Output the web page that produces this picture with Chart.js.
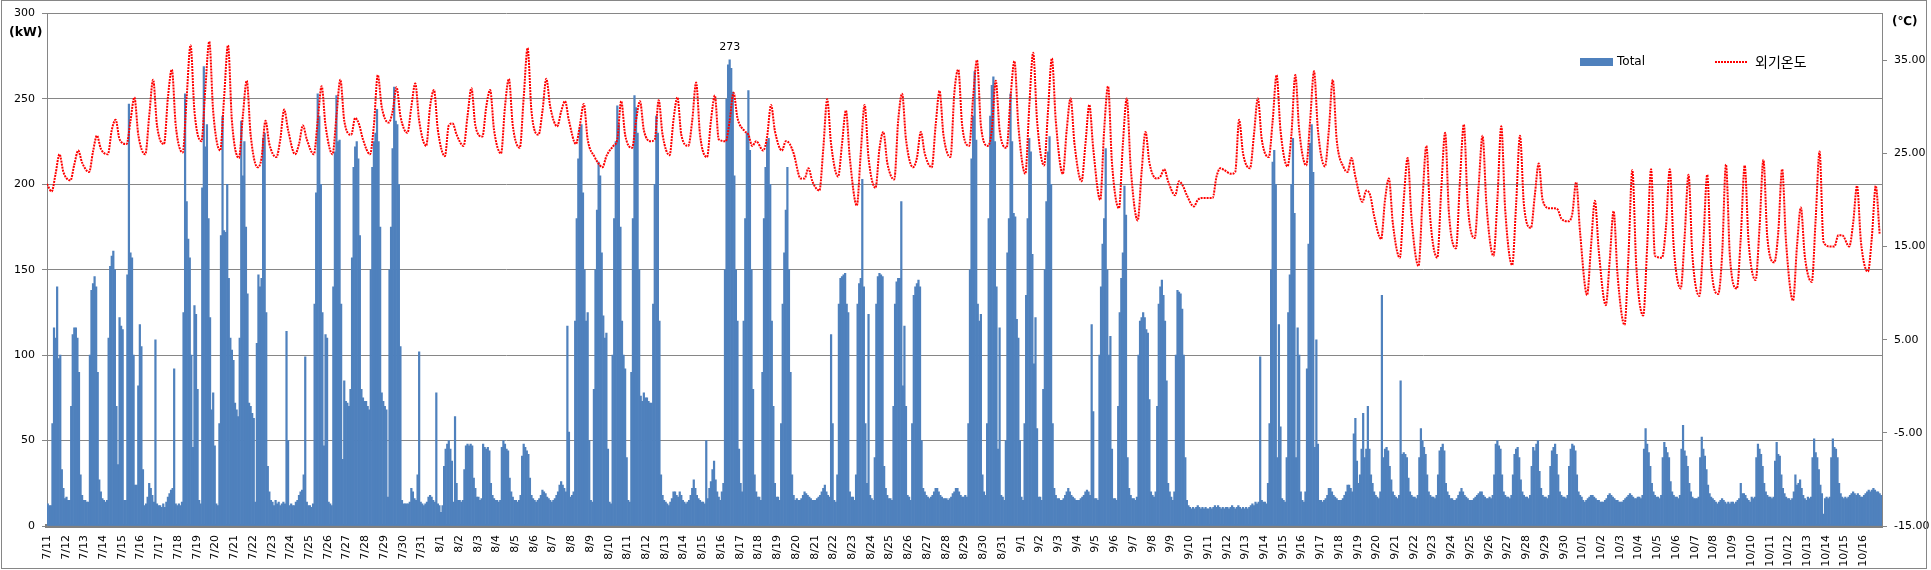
<!DOCTYPE html>
<html><head><meta charset="utf-8">
<script src="https://cdn.jsdelivr.net/npm/chart.js"></script>
<style>html,body{margin:0;padding:0;background:#fff;overflow:hidden}canvas{display:block}</style>
</head><body>
<canvas id="c" width="1931" height="570" style="width:1931px;height:570px"></canvas>
<script>
// ---- category / tick labels ----
const dayLabels = ['7/11','7/12','7/13','7/14','7/15','7/16','7/17','7/18','7/19','7/20','7/21','7/22','7/23','7/24','7/25','7/26','7/27','7/28','7/29','7/30','7/31',
'8/1','8/2','8/3','8/4','8/5','8/6','8/7','8/8','8/9','8/10','8/11','8/12','8/13','8/14','8/15','8/16','8/17','8/18','8/19','8/20','8/21','8/22','8/23','8/24','8/25','8/26','8/27','8/28','8/29','8/30','8/31',
'9/1','9/2','9/3','9/4','9/5','9/6','9/7','9/8','9/9','9/10','9/11','9/12','9/13','9/14','9/15','9/16','9/17','9/18','9/19','9/20','9/21','9/22','9/23','9/24','9/25','9/26','9/27','9/28','9/29','9/30',
'10/1','10/2','10/3','10/4','10/5','10/6','10/7','10/8','10/9','10/10','10/11','10/12','10/13','10/14','10/15','10/16'];
const kwTicks = [0,50,100,150,200,250,300];
const tempTicks = [-15,-5,5,15,25,35];

// ---- Total (kW), 2-hour values, one row per day ----
const kwJul = [
13,12,12,60,116,110,140,98,100,33,22,16,
17,15,15,70,112,116,116,110,90,30,18,15,
15,14,14,100,138,142,146,140,90,27,20,16,
15,14,15,110,152,158,161,150,70,36,122,117,
115,15,15,147,247,160,157,100,24,24,82,118,
105,33,12,13,17,25,22,18,14,109,13,12,
12,11,13,11,14,17,19,21,22,92,13,12,
13,12,14,125,253,190,168,157,100,46,129,124,
80,15,13,198,269,222,235,180,122,68,78,47,
13,12,60,170,240,173,172,200,145,110,103,97,
72,68,64,110,237,205,225,175,136,72,70,66,
63,14,107,147,140,145,227,230,125,35,20,15,
14,12,15,13,14,12,13,14,13,114,50,12,
13,12,12,14,15,18,20,21,30,99,14,12,
12,11,13,130,195,253,240,200,125,47,112,110,
14,13,12,140,219,252,225,226,130,39,85,73,
72,70,80,157,210,222,225,215,170,80,75,73,
73,70,68,150,210,225,230,244,225,175,78,73,
70,68,17,150,175,221,257,237,235,200,105,15,
13,13,13,13,14,22,20,16,15,30,102,14,
13,12,13,14,17,18,17,15,14,78,13,12];
const kwAug = [
8,12,35,45,48,50,45,38,14,64,25,15,
15,14,15,33,47,48,47,48,47,28,22,17,
17,15,16,48,46,45,46,44,25,18,16,15,
15,14,15,46,50,48,45,44,28,20,17,15,
15,14,15,18,41,48,46,44,42,28,18,16,
15,14,15,16,18,21,20,19,17,16,15,14,
15,16,18,20,24,26,24,22,20,117,55,17,
18,20,120,180,215,233,235,195,150,120,125,50,
15,14,80,150,185,213,205,160,123,110,113,45,
14,13,100,180,225,246,235,175,120,100,92,40,
15,14,90,180,252,245,230,150,76,73,78,75,
75,73,72,72,130,200,240,230,120,30,18,15,
14,13,12,14,16,20,20,18,17,20,18,15,
14,13,14,15,18,22,27,22,18,16,15,14,
14,13,50,16,22,26,33,38,27,20,17,15,
20,25,150,250,270,273,268,254,205,150,120,45,
25,20,120,180,230,255,220,150,80,30,20,17,
17,15,90,180,210,225,227,200,120,70,25,17,
17,15,60,130,160,185,210,150,90,30,18,15,
16,15,15,16,18,20,19,18,17,16,15,15,
15,16,17,18,20,22,24,20,18,17,112,60,
15,14,30,130,145,146,147,148,130,125,20,17,
17,15,30,130,142,145,203,140,60,25,124,18,
16,15,40,130,146,148,147,146,35,22,18,16,
16,15,70,130,143,145,145,190,82,117,70,18,
17,15,60,135,140,142,144,140,50,22,20,18,
17,16,17,18,20,22,22,20,18,17,16,16,
16,15,16,17,19,20,22,22,20,18,17,17,
18,17,60,150,215,240,266,226,130,120,124,30,
20,18,60,180,240,258,263,225,140,45,116,18,
17,15,50,160,180,253,225,183,181,121,110,50];
const kwSep = [
17,15,60,135,180,227,219,159,95,122,57,17,
17,15,80,150,190,219,228,200,60,22,18,16,
16,15,15,16,18,20,22,20,18,17,16,15,
15,15,16,17,18,20,21,20,18,118,67,16,
16,15,100,140,165,180,221,150,100,111,45,16,
16,15,70,125,145,160,199,182,40,22,18,16,
16,15,17,100,120,122,125,122,115,113,74,20,
18,17,20,70,130,140,144,135,120,85,25,20,
17,15,20,100,138,137,136,127,100,40,15,12,
11,10,11,10,11,12,11,10,11,10,11,10,
10,11,10,11,12,11,12,11,10,11,10,11,
11,10,11,12,11,10,11,12,11,10,11,10,
11,10,11,12,13,12,14,13,14,99,15,14,
14,13,25,60,150,213,220,200,40,118,58,16,
15,14,40,125,147,200,227,183,40,116,100,20,
15,14,20,92,165,224,235,207,46,109,48,15,
15,14,15,16,18,22,22,20,18,17,16,15,
15,15,16,18,20,24,24,22,20,54,63,38,
25,30,45,66,40,45,70,45,30,25,20,18,
17,16,20,135,40,45,46,44,35,27,20,18,
17,16,18,85,42,43,42,40,28,20,18,17,
17,16,18,40,57,50,46,42,30,20,18,17,
17,16,18,30,44,46,48,44,25,20,18,16,
16,15,15,16,18,20,22,20,18,17,16,15,
15,15,16,17,18,19,20,20,18,17,16,16,
17,16,18,30,48,50,47,45,30,20,18,17,
17,16,18,30,42,45,46,40,27,20,18,17,
17,16,18,35,46,44,48,50,32,22,18,17,
17,16,18,35,44,46,48,42,30,20,18,17,
17,16,18,35,45,48,47,44,30,20,18,17];
const kwOct = [
15,14,15,16,17,18,18,17,16,15,15,14,
14,14,15,16,18,19,18,17,16,15,15,14,
14,14,15,16,17,18,19,18,17,16,16,17,
17,16,18,45,57,48,43,35,25,20,18,17,
17,16,18,40,49,46,43,40,26,20,18,17,
17,16,18,45,59,44,41,35,25,20,17,16,
16,16,17,40,52,45,41,33,24,19,17,16,
15,14,13,14,15,16,15,14,13,14,13,14,
14,13,14,15,16,25,19,19,18,16,15,14,
17,16,17,40,48,45,42,35,25,20,18,17,
17,16,17,38,49,42,41,30,22,19,17,16,
16,15,16,20,30,24,25,27,22,18,16,15,
17,16,17,40,51,43,40,33,24,19,7,16,
17,16,17,40,51,46,45,40,25,19,17,16,
17,16,17,18,19,20,19,18,19,18,17,17,
18,19,20,21,20,21,22,21,20,20,19,18];

// ---- 외기온도 (°C), readings at 06,11,16,21 h, one row per day ----
const tempStart = 21.7;
const tempJul = [
20.9,22.8,24.9,23.0, 22.1,23.8,25.3,24.0, 23.0,25.2,26.9,25.5, 24.9,27.5,28.6,26.5,
26.0,28.5,31.0,27.0, 24.9,29.0,32.9,28.0, 26.0,31.0,34.0,28.0, 25.1,31.0,36.6,29.5,
26.3,32.0,37.0,29.5, 25.3,31.0,36.6,28.5, 24.5,29.0,32.8,27.0, 23.5,24.5,28.5,26.0,
24.6,26.5,29.7,27.5, 24.9,26.0,28.0,26.5, 24.9,28.5,32.2,28.0, 24.9,29.0,32.9,28.5,
27.0,28.8,28.1,26.5, 24.9,28.0,33.4,30.0, 28.3,29.5,32.1,29.0, 27.2,30.0,32.5,28.5,
25.8,30.0,31.8,27.5];
const tempAug = [
24.7,28.0,28.2,27.0, 25.8,29.0,32.0,28.0, 26.8,30.0,31.8,27.5, 25.0,30.0,33.0,28.0,
25.6,31.0,36.3,29.5, 27.0,29.5,33.0,30.0, 27.9,29.5,30.6,28.5, 26.0,28.0,30.3,26.5,
24.6,23.9,23.5,24.7, 25.8,26.5,30.6,27.0, 25.6,28.5,30.6,27.5, 26.3,26.5,30.7,27.0,
24.8,28.6,31.0,27.0, 25.8,28.5,32.6,27.0, 24.6,28.5,31.2,26.5, 26.3,28.5,31.5,28.8,
27.4,27.0,25.8,26.3, 25.3,26.8,30.2,27.4, 25.3,26.3,26.0,25.0, 22.3,22.3,23.4,22.0,
21.0,25.5,30.8,26.0, 22.5,26.0,29.6,24.5, 19.4,25.0,30.2,24.5, 21.3,25.5,27.3,24.0,
22.2,28.5,31.4,26.5, 23.5,24.5,27.3,25.0, 23.5,28.0,31.7,27.0, 24.6,31.5,34.0,28.0,
25.8,31.0,35.0,28.0, 25.8,27.5,32.8,27.5, 25.6,31.0,34.9,28.0];
const tempSep = [
22.8,30.0,35.8,28.5, 23.7,29.5,35.2,28.5, 22.8,27.5,30.9,26.0, 22.0,26.0,30.2,25.5,
20.0,27.5,32.2,24.0, 19.1,26.0,30.9,23.5, 17.8,23.0,27.3,24.0, 22.3,22.5,23.3,22.0,
20.5,22.0,21.5,20.5, 19.3,20.0,20.2,20.2, 20.2,22.5,23.4,23.2, 22.8,23.0,28.6,25.0,
23.4,27.0,30.9,26.5, 24.6,28.5,33.4,27.5, 23.6,27.0,33.4,27.5, 23.7,28.5,33.8,27.5,
23.6,27.5,32.9,26.5, 23.5,23.0,24.5,22.5, 19.8,21.0,20.5,18.3, 15.8,20.0,22.3,17.5,
13.8,20.0,24.5,18.0, 12.9,20.0,25.8,18.0, 13.8,21.0,27.2,18.5, 14.8,22.0,28.1,19.5,
15.9,21.5,26.9,19.5, 14.0,20.0,27.9,19.0, 13.0,19.5,26.9,19.5, 17.0,20.5,23.9,20.0,
19.1,19.1,19.0,18.0, 17.7,18.5,21.9,16.5];
const tempOct = [
9.8,15.0,19.9,14.5, 8.7,13.5,18.8,12.0, 6.6,14.0,23.2,13.0, 7.6,15.0,23.3,14.0,
13.8,17.0,23.3,15.0, 10.5,16.0,22.7,14.0, 9.7,15.5,22.7,13.0, 9.9,14.0,23.8,14.0,
10.5,16.0,23.7,15.5, 11.4,17.0,24.3,16.0, 13.3,16.5,23.3,15.5, 9.2,15.0,19.2,14.0,
11.2,18.0,25.2,15.5, 15.0,15.0,16.2,16.2, 15.0,17.5,21.5,15.5, 12.3,16.0,21.5,16.3];

const TEMP_HOURS = [6,11,16,21];
const BAR_HOURS = 2;

const kwAll = kwJul.concat(kwAug, kwSep, kwOct);
const tempAll = tempJul.concat(tempAug, tempSep, tempOct);
const barPts = kwAll.map((v, i) => ({x: i * BAR_HOURS + BAR_HOURS / 2, y: v}));
const tempPts = [{x: 0, y: tempStart}].concat(
  tempAll.map((v, i) => ({x: Math.floor(i / 4) * 24 + TEMP_HOURS[i % 4], y: v})));
const totalHours = dayLabels.length * 24;

const FONT = '"DejaVu Sans", "Noto Sans CJK KR", sans-serif';
Chart.defaults.font.family = FONT;
Chart.defaults.font.size = 11;
Chart.defaults.color = '#000';

const decor = {
  id: 'decor',
  beforeDraw(chart) {
    const c = chart.ctx; c.save(); c.fillStyle = '#fff'; c.fillRect(0, 0, chart.width, chart.height); c.restore();
  },
  afterDraw(chart) {
    const c = chart.ctx; c.save();
    c.strokeStyle = '#868686'; c.lineWidth = 1; c.setLineDash([]);
    c.strokeRect(1.5, 0.5, 1925, 568);
    c.fillStyle = '#000'; c.textBaseline = 'middle'; c.textAlign = 'left';
    c.font = 'bold 12.5px ' + FONT;
    c.fillText('(kW)', 9, 33);
    c.font = 'bold 12px ' + FONT;
    c.fillText('(℃)', 1892, 22);
    // max value label
    const meta = chart.getDatasetMeta(0);
    let mi = 0; kwAll.forEach((v, i) => { if (v > kwAll[mi]) mi = i; });
    const el = meta.data[mi];
    c.font = '11px ' + FONT; c.textAlign = 'center';
    c.fillText(String(kwAll[mi]), el.x, el.y - 13);
    // legend
    c.fillStyle = '#4F81BD'; c.fillRect(1580, 58, 33, 8);
    c.fillStyle = '#000'; c.textAlign = 'left'; c.font = '12px ' + FONT;
    c.fillText('Total', 1617, 62);
    c.strokeStyle = '#FF0000'; c.lineWidth = 2; c.setLineDash([2, 1]);
    c.beginPath(); c.moveTo(1715, 62); c.lineTo(1748, 62); c.stroke();
    c.setLineDash([]);
    c.font = '14px "Noto Sans CJK KR", ' + FONT;
    c.fillText('외기온도', 1755, 62);
    c.restore();
  }
};

new Chart(document.getElementById('c'), {
  type: 'bar',
  data: {
    datasets: [
      {type: 'bar', label: 'Total', data: barPts, backgroundColor: '#4F81BD', borderWidth: 0,
       barPercentage: 1, categoryPercentage: 1, yAxisID: 'y', order: 2},
      {type: 'line', label: '외기온도', data: tempPts, borderColor: '#FF0000', borderWidth: 2,
       borderDash: [2, 1], pointRadius: 0, cubicInterpolationMode: 'monotone', fill: false,
       yAxisID: 'y1', order: 1}
    ]
  },
  options: {
    responsive: false, animation: false, devicePixelRatio: 1, events: [],
    layout: {padding: {top: 8, left: 0, right: 0, bottom: 0}},
    plugins: {legend: {display: false}, tooltip: {enabled: false}},
    scales: {
      x: {
        type: 'linear', min: 0, max: totalHours, offset: false,
        grid: {display: false, drawTicks: false},
        border: {display: true, width: 4, color: '#808080'},
        afterBuildTicks: s => { s.ticks = dayLabels.map((_, i) => ({value: i * 24})); },
        ticks: {autoSkip: false, minRotation: 90, maxRotation: 90, padding: 9,
                font: {size: 11}, color: '#000',
                callback: (v, i) => dayLabels[i] ?? ''},
        afterFit: s => { s.height = 44; }
      },
      y: {
        position: 'left', min: 0, max: 300,
        afterBuildTicks: s => { s.ticks = kwTicks.map(v => ({value: v})); },
        grid: {color: '#868686', lineWidth: 1, tickLength: 5},
        border: {display: true, color: '#868686', width: 1},
        ticks: {padding: 7, font: {size: 11}, color: '#000'},
        afterFit: s => { s.width = 47; }
      },
      y1: {
        position: 'right', min: -15, max: 40,
        afterBuildTicks: s => { s.ticks = tempTicks.map(v => ({value: v})); },
        grid: {drawOnChartArea: false, color: '#868686', tickLength: 5},
        border: {display: true, color: '#868686', width: 1},
        ticks: {padding: 7, font: {size: 11}, color: '#000', callback: v => Number(v).toFixed(2)},
        afterFit: s => { s.width = 49; }
      }
    }
  },
  plugins: [decor]
});
</script>
</body></html>
